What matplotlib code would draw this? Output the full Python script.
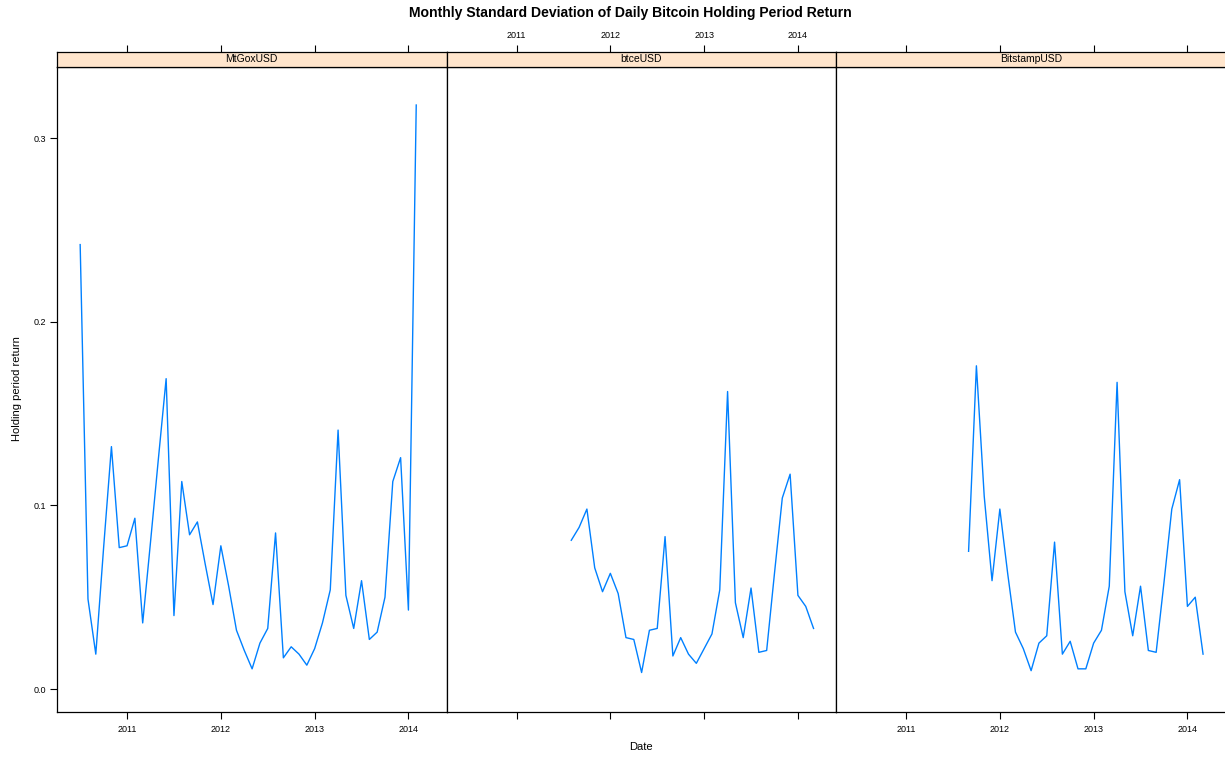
import numpy as np
import matplotlib.pyplot as plt

plt.rcParams['font.family'] = ['Liberation Sans', 'DejaVu Sans']

# monthly std dev of daily holding period return, per exchange
mtgox_start = (2010, 7)
mtgox = [0.242, 0.049, 0.019, 0.077, 0.132, 0.077,
         0.078, 0.093, 0.036, 0.080, 0.125, 0.169, 0.040, 0.113, 0.084, 0.091, 0.068, 0.046,
         0.078, 0.056, 0.032, 0.021, 0.011, 0.025, 0.033, 0.085, 0.017, 0.023, 0.019, 0.013,
         0.022, 0.036, 0.054, 0.141, 0.051, 0.033, 0.059, 0.027, 0.031, 0.050, 0.113, 0.126,
         0.043, 0.318]

btce_start = (2011, 8)
btce = [0.081, 0.088, 0.098, 0.066, 0.053,
        0.063, 0.052, 0.028, 0.027, 0.009, 0.032, 0.033, 0.083, 0.018, 0.028, 0.019, 0.014,
        0.022, 0.030, 0.054, 0.162, 0.047, 0.028, 0.055, 0.020, 0.021, 0.063, 0.104, 0.117,
        0.051, 0.045, 0.033]

bitstamp_start = (2011, 9)
bitstamp = [0.075, 0.176, 0.105, 0.059,
            0.098, 0.063, 0.031, 0.022, 0.010, 0.025, 0.029, 0.080, 0.019, 0.026, 0.011, 0.011,
            0.025, 0.032, 0.056, 0.167, 0.053, 0.029, 0.056, 0.021, 0.020, 0.058, 0.098, 0.114,
            0.045, 0.050, 0.019]

panels = ['MtGoxUSD', 'btceUSD', 'BitstampUSD']
series = [(mtgox_start, mtgox), (btce_start, btce), (bitstamp_start, bitstamp)]
years = [2011, 2012, 2013, 2014]
yticks = [0.0, 0.1, 0.2, 0.3]


def month_axis(start, n):
    y, m = start
    return y + (m - 1) / 12 + np.arange(n) / 12


W, H = 1225, 757
fig = plt.figure(figsize=(W / 100, H / 100), dpi=100)

line_col = '#0080ff'
strip_col = '#ffe5cc'
pw = 389.5
top_px, strip_px, bot_px = 67, 52, 712

for i, (name, (start, vals)) in enumerate(zip(panels, series)):
    left = (57 + i * pw) / W
    ax = fig.add_axes([left, (H - bot_px) / H, pw / W, (bot_px - top_px) / H])
    st = fig.add_axes([left, (H - top_px) / H, pw / W, (top_px - strip_px) / H], sharex=ax)

    x = month_axis(start, len(vals))
    ax.plot(x, vals, color=line_col, lw=1)
    ax.set_xlim(2010.253, 2014.406)
    ax.set_ylim(-0.0125, 0.3387)

    ax.set_xticks(years)
    ax.tick_params(axis='both', direction='out', length=5, width=0.8,
                   labelsize=6.5, pad=4)
    ax.tick_params(axis='x', labelbottom=(i != 1))
    ax.set_xticklabels([str(y) for y in years])
    ax.set_yticks(yticks)
    ax.set_yticklabels(['0.0', '0.1', '0.2', '0.3'])
    if i == 0:
        ax.tick_params(axis='y', left=True, labelleft=True, right=False, pad=3)
    elif i == 2:
        ax.tick_params(axis='y', left=False, labelleft=False, right=True)
    else:
        ax.tick_params(axis='y', left=False, labelleft=False)
    for s in ax.spines.values():
        s.set_linewidth(0.9)

    st.set_facecolor(strip_col)
    st.set_ylim(0, 1)
    st.set_yticks([])
    st.tick_params(axis='x', bottom=False, labelbottom=False, top=True,
                   labeltop=(i == 1), direction='out', length=5, width=0.8,
                   labelsize=6.5, pad=4)
    st.text(0.5, 0.5, name, transform=st.transAxes, ha='center', va='center',
            fontsize=7.5)
    for s in st.spines.values():
        s.set_linewidth(0.9)

fig.text(630 / W, 1 - 13 / H, 'Monthly Standard Deviation of Daily Bitcoin Holding Period Return',
         ha='center', va='center', fontsize=10.1, fontweight='bold')
fig.text(641 / W, 1 - 747 / H, 'Date', ha='center', va='center', fontsize=8)
fig.text(17 / W, 1 - 389 / H, 'Holding period return', ha='center', va='center',
         rotation=90, fontsize=8)

fig.savefig('out.png', dpi=100)
